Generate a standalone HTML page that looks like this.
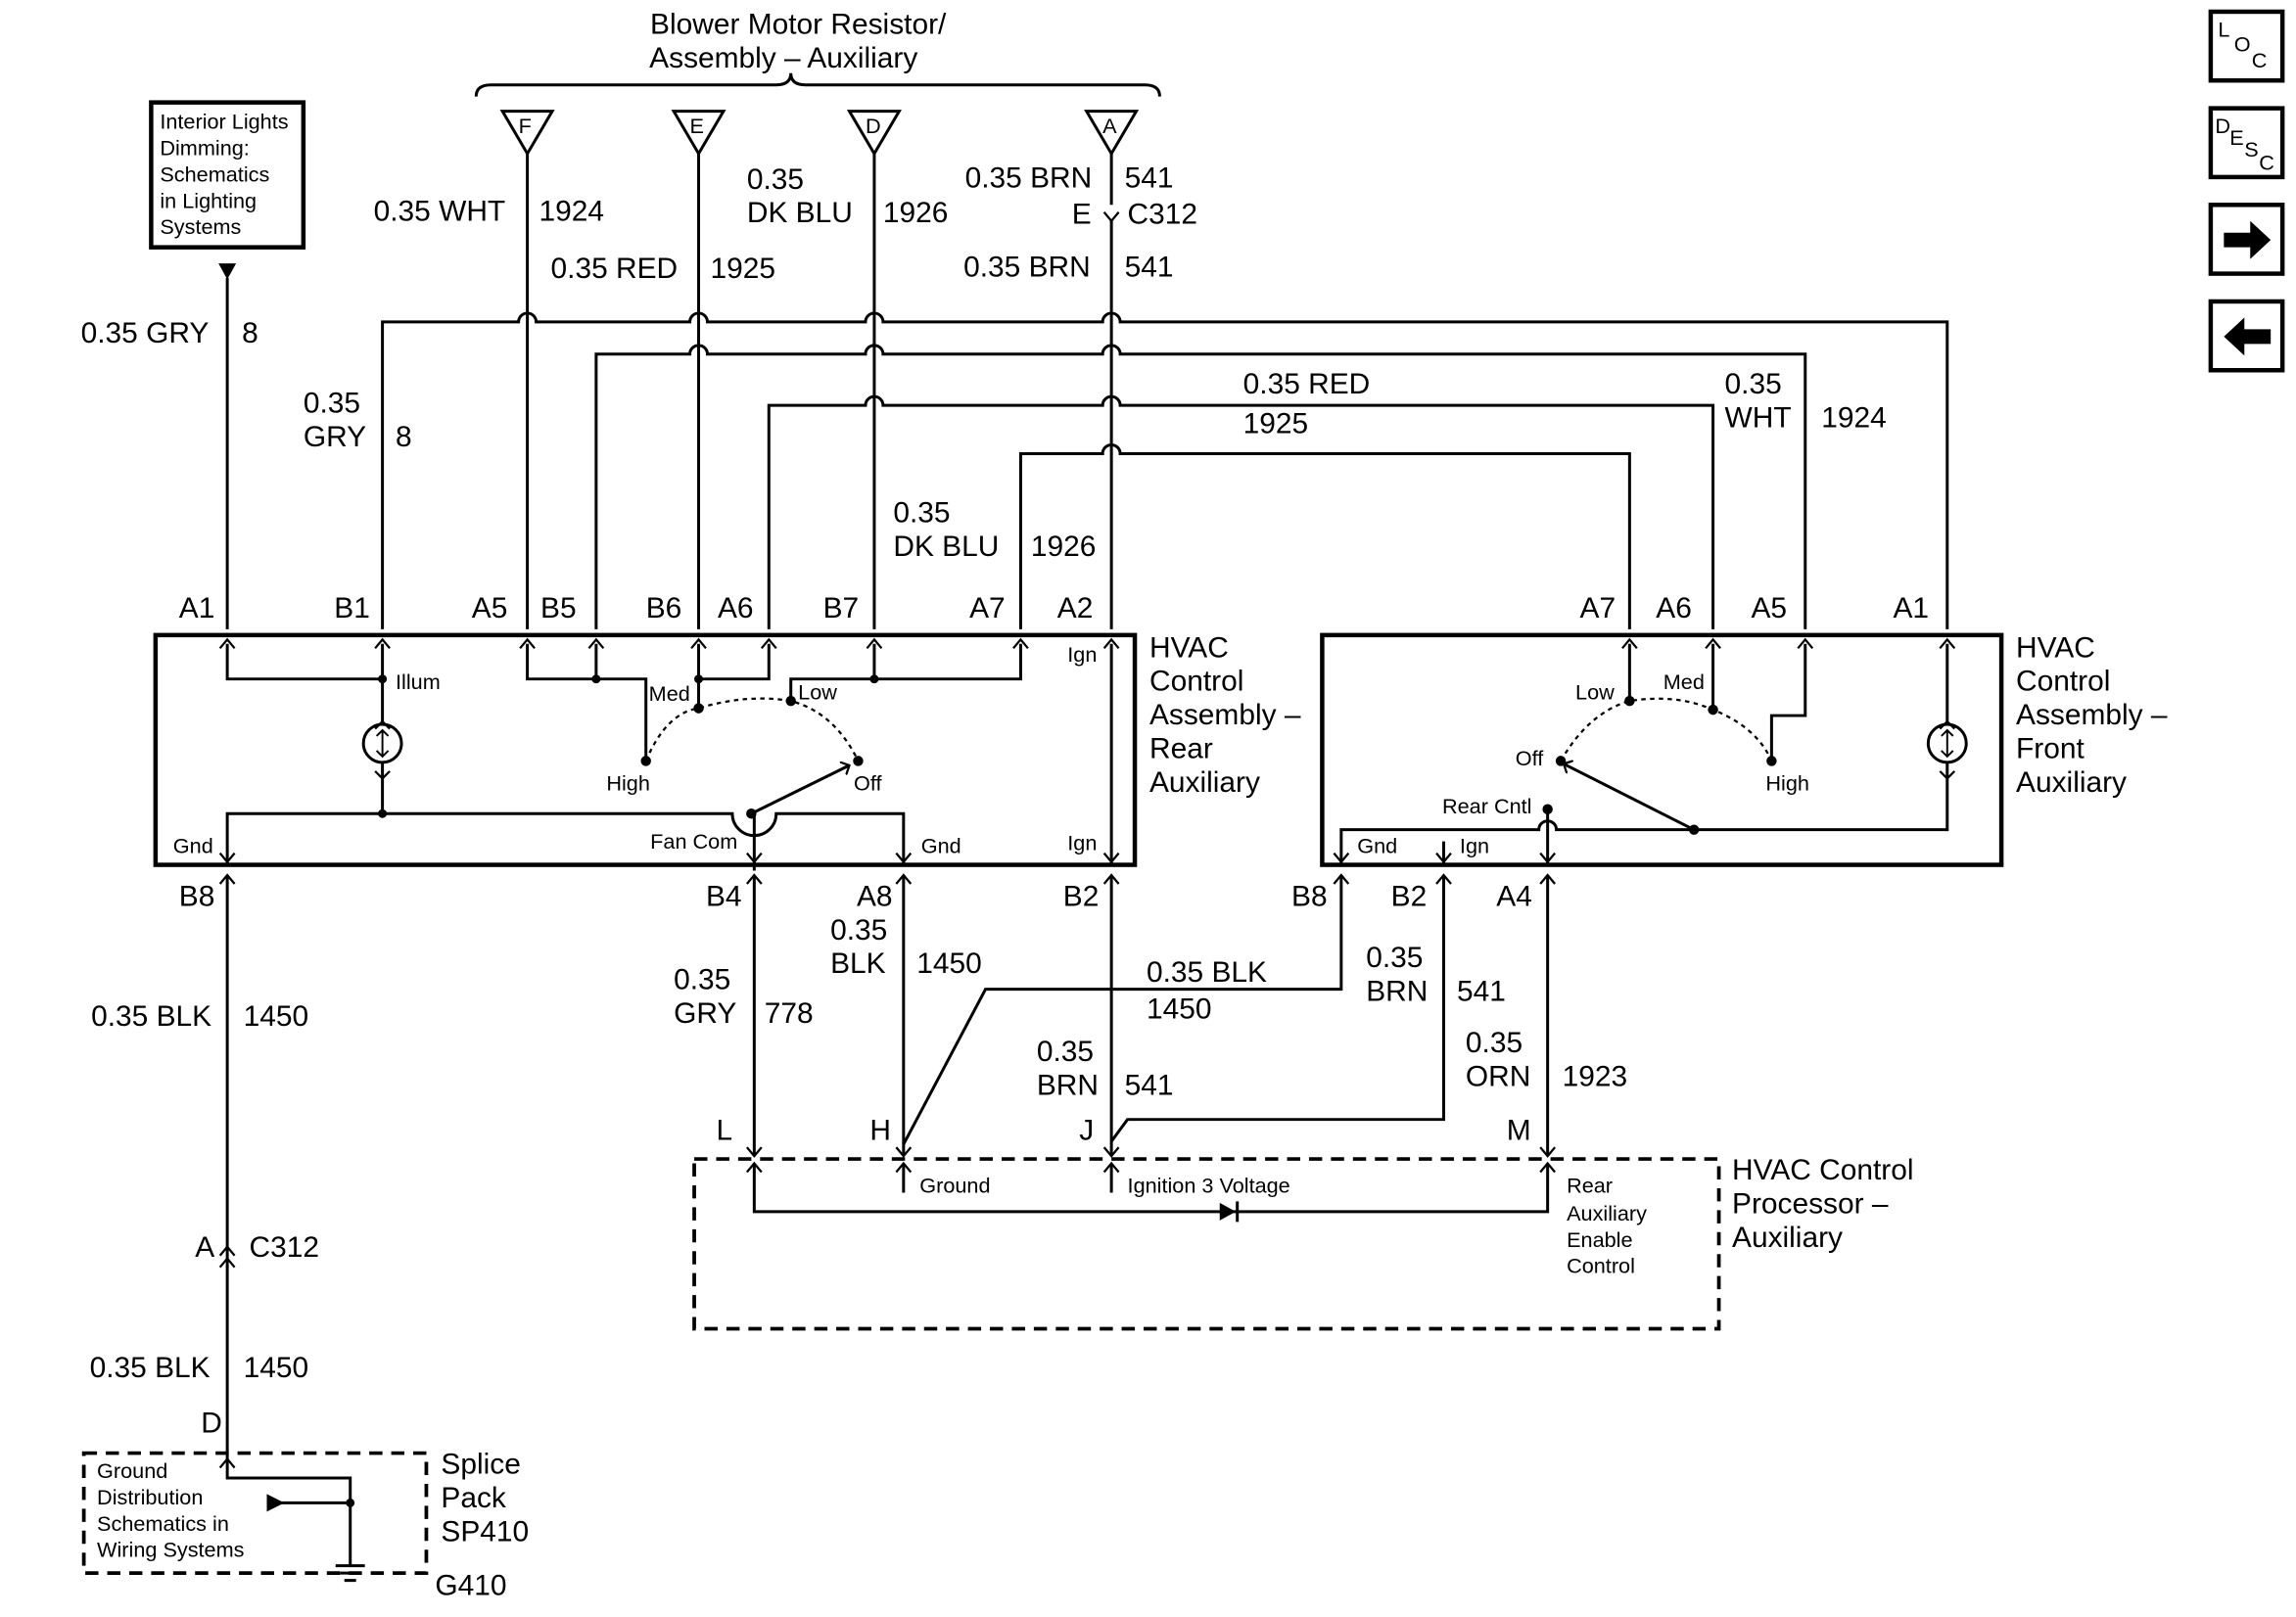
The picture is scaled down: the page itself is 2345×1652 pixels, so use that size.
<!DOCTYPE html>
<html><head><meta charset="utf-8"><style>
html,body{margin:0;padding:0;background:#fff;}
svg{display:block;}
text{font-family:"Liberation Sans",sans-serif;fill:#000;}
.l{font-size:20px;}
.s{font-size:14.5px;}
</style></head><body>
<svg width="2345" height="1652" viewBox="0 0 1568 1105" xmlns="http://www.w3.org/2000/svg">
<defs>
<marker id="ah" markerWidth="10" markerHeight="10" refX="5" refY="5" orient="auto" markerUnits="userSpaceOnUse"><path d="M0,0 L5,5 L0,10" fill="none" stroke="#000" stroke-width="1.5"/></marker>
</defs>
<g fill="none" stroke="#000" stroke-width="2">
<path d="M325,66 Q325,58 335,58 L530,58 Q540,58 540,50 Q540,58 550,58 L782,58 Q792,58 792,66"/>
<path d="M343,76 L377,76 L360,105 Z"/><path d="M460,76 L494,76 L477,105 Z"/><path d="M580,76 L614,76 L597,105 Z"/><path d="M742,76 L776,76 L759,105 Z"/>
<rect x="103" y="70" width="104" height="99" stroke-width="3"/>
<path d="M360,105 V430"/>
<path d="M477,105 V430"/>
<path d="M597,105 V430"/>
<path d="M759,105 V140 M759,150 V430"/>
<path d="M261,430 V220 H354 a6,6 0 0 1 12,0 H471 a6,6 0 0 1 12,0 H591 a6,6 0 0 1 12,0 H753 a6,6 0 0 1 12,0 H1330 V430"/>
<path d="M407,430 V242 H471 a6,6 0 0 1 12,0 H591 a6,6 0 0 1 12,0 H753 a6,6 0 0 1 12,0 H1233 V430"/>
<path d="M525,430 V277 H591 a6,6 0 0 1 12,0 H753 a6,6 0 0 1 12,0 H1170 V430"/>
<path d="M697,430 V310 H753 a6,6 0 0 1 12,0 H1113 V430"/>
<path d="M155,190 V430"/>
<rect x="106" y="434" width="669" height="157" stroke-width="3"/>
<rect x="903" y="434" width="464" height="157" stroke-width="3"/>
<path d="M155,440 V464 H261 M261,440 V495 M261,521 V556"/>
<circle cx="261" cy="508" r="13"/>
<path d="M261,499 V517 M257,503 l4,-4 l4,4 M257,513 l4,4 l4,-4" stroke-width="1.3"/>
<path d="M155,590 V556 H500 a15,15 0 0 0 30,0 H617 V590"/>
<path d="M515,595 V556"/>
<path d="M360,440 V464 H441 V520 M407,440 V464 M477,440 V484 M477,464 H525 V440 M540,479 V464 H697 V440 M597,440 V464"/>
<path d="M759,440 V590"/>
<path d="M441,520 Q455,487 477,484 Q510,474 540,479 Q570,487 586,520" stroke-dasharray="3,3" stroke-width="1.5"/>
<path d="M513,556 L580,523" marker-end="url(#ah)"/>
<path d="M1113,440 V479 M1170,440 V485 M1233,440 V489 H1210 V520"/>
<path d="M1330,440 V495 M1330,521 V567 H1063 a6,6 0 0 0 -12,0 H916 V590"/>
<circle cx="1330" cy="508" r="13"/>
<path d="M1330,499 V517 M1326,503 l4,-4 l4,4 M1326,513 l4,4 l4,-4" stroke-width="1.3"/>
<path d="M986,575 V590 M1057,553 V590"/>
<path d="M1066,520 Q1085,487 1113,479 Q1145,474 1170,485 Q1200,497 1210,520" stroke-dasharray="3,3" stroke-width="1.5"/>
<path d="M1157,567 L1068,522" marker-end="url(#ah)"/>
<path d="M155,598 V1010 H239 V1070"/>
<path d="M515,598 V790 M617,598 V790 M759,598 V790 M1057,598 V790"/>
<path d="M617,782 L673,676 H916 V598"/>
<path d="M986,598 V765 H770 L759,780"/>
<rect x="474" y="792" width="700" height="116" stroke-dasharray="9,6" stroke-width="2.5"/>
<path d="M515,795 V828 H1057 V795 M617,795 V815 M759,795 V815"/>
<rect x="57" y="993" width="234" height="82" stroke-dasharray="9,6" stroke-width="2.5"/>
<path d="M185,1027 H239"/>
<path d="M229,1070 H249 M232,1075 H246 M235,1080 H243"/>
</g>
<path d="M833,822 L833,834 L844,828 Z" fill="#000"/><path d="M845,821 V835" stroke="#000" stroke-width="2"/>
<path d="M182,1021 L194,1027 L182,1033 Z" fill="#000"/>
<path d="M149,180 L161,180 L155,191 Z" fill="#000"/>
<g fill="#000"><circle cx="261" cy="464" r="3"/><circle cx="261" cy="556" r="3"/><circle cx="407" cy="464" r="3"/><circle cx="477" cy="464" r="3"/><circle cx="597" cy="464" r="3"/>
<circle cx="441" cy="520" r="3.5"/><circle cx="477" cy="484" r="3.5"/><circle cx="540" cy="479" r="3.5"/><circle cx="586" cy="520" r="3.5"/><circle cx="513" cy="556" r="3.5"/>
<circle cx="1066" cy="520" r="3.5"/><circle cx="1113" cy="479" r="3.5"/><circle cx="1170" cy="485" r="3.5"/><circle cx="1210" cy="520" r="3.5"/><circle cx="1157" cy="567" r="3.5"/><circle cx="1057" cy="553" r="3.5"/><circle cx="239" cy="1027" r="3"/></g>
<g fill="none" stroke="#000" stroke-width="1.5">
<path d="M150,443 l5,-6 l5,6 M256,443 l5,-6 l5,6 M355,443 l5,-6 l5,6 M402,443 l5,-6 l5,6 M472,443 l5,-6 l5,6 M520,443 l5,-6 l5,6 M592,443 l5,-6 l5,6 M692,443 l5,-6 l5,6 M754,443 l5,-6 l5,6"/>
<path d="M1108,443 l5,-6 l5,6 M1165,443 l5,-6 l5,6 M1228,443 l5,-6 l5,6 M1325,443 l5,-6 l5,6"/>
<path d="M150,583 l5,6 l5,-6 M510,583 l5,6 l5,-6 M612,583 l5,6 l5,-6 M754,583 l5,6 l5,-6 M911,583 l5,6 l5,-6 M981,583 l5,6 l5,-6 M1052,583 l5,6 l5,-6"/>
<path d="M150,604 l5,-6 l5,6 M510,604 l5,-6 l5,6 M612,604 l5,-6 l5,6 M754,604 l5,-6 l5,6 M911,604 l5,-6 l5,6 M981,604 l5,-6 l5,6 M1052,604 l5,-6 l5,6"/>
<path d="M510,784 l5,6 l5,-6 M612,784 l5,6 l5,-6 M754,784 l5,6 l5,-6 M1052,784 l5,6 l5,-6"/>
<path d="M510,801 l5,-6 l5,6 M612,801 l5,-6 l5,6 M754,801 l5,-6 l5,6 M1052,801 l5,-6 l5,6"/>
<path d="M150,866 l5,-6 l5,6 M150,858 l5,-6 l5,6 M150,1003 l5,-6 l5,6 M754,145 l5,6 l5,-6 M256,498 l5,-5 l5,5 M256,527 l5,5 l5,-5 M1325,498 l5,-5 l5,5 M1325,527 l5,5 l5,-5"/>
</g>
<text class="l" x="545" y="23" text-anchor="middle">Blower Motor Resistor/</text>
<text class="l" x="535" y="46" text-anchor="middle">Assembly – Auxiliary</text>
<g class="s"><text x="354" y="91">F</text><text x="471" y="91">E</text><text x="591" y="91">D</text><text x="753" y="91">A</text></g>
<g class="s"><text x="109" y="88">Interior Lights</text><text x="109" y="106">Dimming:</text><text x="109" y="124">Schematics</text><text x="109" y="142">in Lighting</text><text x="109" y="160">Systems</text></g>
<g class="l">
<text x="255" y="151">0.35 WHT</text><text x="368" y="151">1924</text>
<text x="376" y="190">0.35 RED</text><text x="485" y="190">1925</text>
<text x="510" y="129">0.35</text><text x="510" y="152">DK BLU</text><text x="603" y="152">1926</text>
<text x="659" y="128">0.35 BRN</text><text x="768" y="128">541</text>
<text x="732" y="153">E</text><text x="770" y="153">C312</text>
<text x="658" y="189">0.35 BRN</text><text x="768" y="189">541</text>
<text x="55" y="234">0.35 GRY</text><text x="165" y="234">8</text>
<text x="207" y="282">0.35</text><text x="207" y="305">GRY</text><text x="270" y="305">8</text>
<text x="849" y="269">0.35 RED</text><text x="849" y="296">1925</text>
<text x="1178" y="269">0.35</text><text x="1178" y="292">WHT</text><text x="1244" y="292">1924</text>
<text x="610" y="357">0.35</text><text x="610" y="380">DK BLU</text><text x="704" y="380">1926</text>
<text x="122" y="422">A1</text><text x="228" y="422">B1</text><text x="322" y="422">A5</text><text x="369" y="422">B5</text><text x="441" y="422">B6</text><text x="490" y="422">A6</text><text x="562" y="422">B7</text><text x="662" y="422">A7</text><text x="722" y="422">A2</text>
<text x="1079" y="422">A7</text><text x="1131" y="422">A6</text><text x="1196" y="422">A5</text><text x="1293" y="422">A1</text>
<text x="785" y="449">HVAC</text><text x="785" y="472">Control</text><text x="785" y="495">Assembly –</text><text x="785" y="518">Rear</text><text x="785" y="541">Auxiliary</text>
<text x="1377" y="449">HVAC</text><text x="1377" y="472">Control</text><text x="1377" y="495">Assembly –</text><text x="1377" y="518">Front</text><text x="1377" y="541">Auxiliary</text>
<text x="122" y="619">B8</text><text x="482" y="619">B4</text><text x="585" y="619">A8</text><text x="726" y="619">B2</text>
<text x="882" y="619">B8</text><text x="950" y="619">B2</text><text x="1022" y="619">A4</text>
<text x="567" y="642">0.35</text><text x="567" y="665">BLK</text><text x="626" y="665">1450</text>
<text x="62" y="701">0.35 BLK</text><text x="166" y="701">1450</text>
<text x="460" y="676">0.35</text><text x="460" y="699">GRY</text><text x="522" y="699">778</text>
<text x="783" y="671">0.35 BLK</text><text x="783" y="696">1450</text>
<text x="933" y="661">0.35</text><text x="933" y="684">BRN</text><text x="995" y="684">541</text>
<text x="708" y="725">0.35</text><text x="708" y="748">BRN</text><text x="768" y="748">541</text>
<text x="1001" y="719">0.35</text><text x="1001" y="742">ORN</text><text x="1067" y="742">1923</text>
<text x="489" y="779">L</text><text x="594" y="779">H</text><text x="737" y="779">J</text><text x="1029" y="779">M</text>
<text x="1183" y="806">HVAC Control</text><text x="1183" y="829">Processor –</text><text x="1183" y="852">Auxiliary</text>
<text x="133" y="859">A</text><text x="170" y="859">C312</text>
<text x="61" y="941">0.35 BLK</text><text x="166" y="941">1450</text>
<text x="137" y="979">D</text>
<text x="301" y="1007">Splice</text><text x="301" y="1030">Pack</text><text x="301" y="1053">SP410</text><text x="297" y="1090">G410</text>
</g>
<g class="s">
<text x="270" y="471">Illum</text><text x="443" y="479">Med</text><text x="545" y="478">Low</text><text x="414" y="540">High</text><text x="583" y="540">Off</text>
<text x="444" y="580">Fan Com</text><text x="118" y="583">Gnd</text><text x="629" y="583">Gnd</text><text x="729" y="452">Ign</text><text x="729" y="581">Ign</text>
<text x="1076" y="478">Low</text><text x="1136" y="471">Med</text><text x="1035" y="523">Off</text><text x="1206" y="540">High</text><text x="985" y="556">Rear Cntl</text>
<text x="927" y="583">Gnd</text><text x="997" y="583">Ign</text>
<text x="628" y="815">Ground</text><text x="770" y="815">Ignition 3 Voltage</text>
<text x="1070" y="815">Rear</text><text x="1070" y="834">Auxiliary</text><text x="1070" y="852">Enable</text><text x="1070" y="870">Control</text>
<text x="66" y="1010">Ground</text><text x="66" y="1028">Distribution</text><text x="66" y="1046">Schematics in</text><text x="66" y="1064">Wiring Systems</text>
</g>
<g fill="none" stroke="#000" stroke-width="3">
<rect x="1510" y="8" width="49" height="47"/><rect x="1510" y="74" width="49" height="47"/><rect x="1510" y="140" width="49" height="47"/><rect x="1510" y="206" width="49" height="47"/>
</g>
<g class="s"><text x="1515" y="25">L</text><text x="1526" y="35">O</text><text x="1538" y="46">C</text>
<text x="1513" y="91">D</text><text x="1523" y="99">E</text><text x="1533" y="107">S</text><text x="1543" y="116">C</text></g>
<path d="M1519,159 H1537 V151 L1551,164 L1537,177 V169 H1519 Z" fill="#000"/>
<path d="M1551,225 H1533 V217 L1519,230 L1533,243 V235 H1551 Z" fill="#000"/>
</svg>
</body></html>
